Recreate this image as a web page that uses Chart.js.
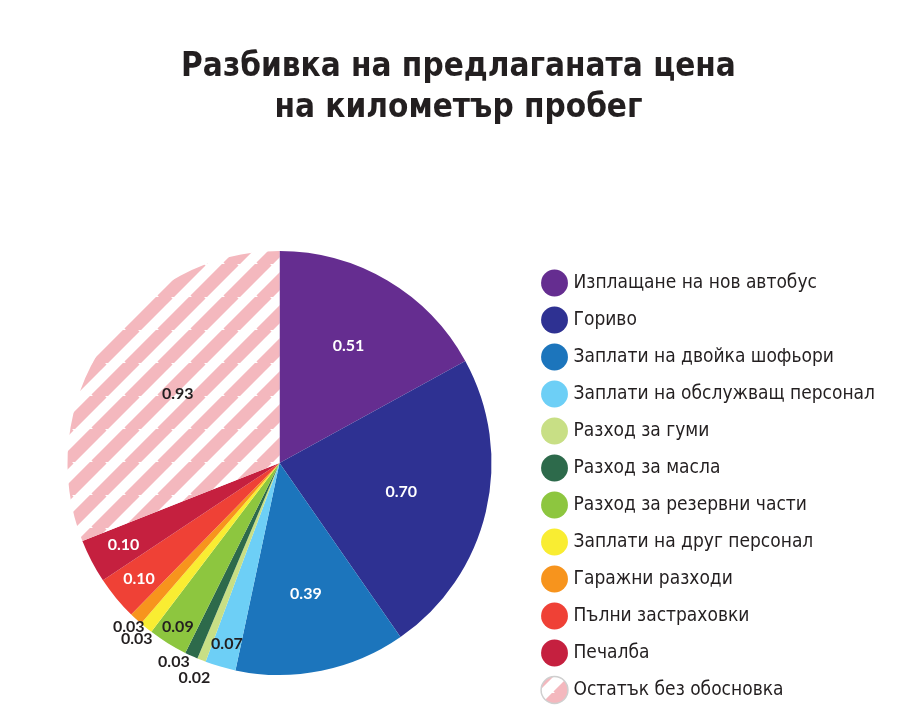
<!DOCTYPE html>
<html>
<head>
<meta charset="utf-8">
<script src="https://cdn.jsdelivr.net/npm/chart.js@4.4.1/dist/chart.umd.min.js"></script>
<style>
  html, body { margin: 0; padding: 0; background: #ffffff; }
  #wrap { width: 900px; height: 722px; position: relative; }
</style>
</head>
<body>
<div id="wrap"><canvas id="c" width="900" height="722"></canvas></div>
<script>
// ---- data ----
const titleLines = ["Разбивка на предлаганата цена", "на километър пробег"];
const categories = [
  "Изплащане на нов автобус",
  "Гориво",
  "Заплати на двойка шофьори",
  "Заплати на обслужващ персонал",
  "Разход за гуми",
  "Разход за масла",
  "Разход за резервни части",
  "Заплати на друг персонал",
  "Гаражни разходи",
  "Пълни застраховки",
  "Печалба",
  "Остатък без обосновка"
];
const values = [0.51, 0.70, 0.39, 0.07, 0.02, 0.03, 0.09, 0.03, 0.03, 0.10, 0.10, 0.93];

// ---- styles ----
const sliceColors = ["#652D90", "#2E3192", "#1C75BC", "#6DCFF6", "#C8DF85", "#2D6A4B",
                     "#8DC63F", "#F9ED32", "#F7941D", "#EF4136", "#C5203F", null];
const labelTextColors = ["#ffffff", "#ffffff", "#ffffff", "#231F20", "#231F20", "#231F20",
                         "#231F20", "#231F20", "#231F20", "#ffffff", "#ffffff", "#231F20"];
const labelRadius = [0.64, 0.59, 0.63, 0.89, 1.09, 1.06, 0.91, 1.07, 1.05, 0.86, 0.83, 0.58];
const labelAngleShift = [0, 0, 0, 0, 0, 0.06, 0, 0, 0, 0, 0, 0];

function makeStripes() {
  const p = 33;
  const c = document.createElement('canvas');
  c.width = p; c.height = p;
  const g = c.getContext('2d');
  g.fillStyle = '#ffffff';
  g.fillRect(0, 0, p, p);
  g.strokeStyle = '#F4B8BE';
  g.lineWidth = 0.55 * p / Math.SQRT2;
  g.beginPath();
  for (const k of [-p, 0, p]) {
    g.moveTo(k - 3, p + 3);
    g.lineTo(k + p + 3, -3);
  }
  g.stroke();
  return document.getElementById('c').getContext('2d').createPattern(c, 'repeat');
}
const stripes = makeStripes();
const bg = sliceColors.map(c => c || stripes);

const sliceLabels = {
  id: 'sliceLabels',
  afterDatasetsDraw(chart) {
    const meta = chart.getDatasetMeta(0);
    const ctx = chart.ctx;
    ctx.save();
    ctx.font = "bold 16px Lato, 'DejaVu Sans', sans-serif";
    ctx.textAlign = 'center';
    ctx.textBaseline = 'middle';
    meta.data.forEach((arc, i) => {
      const p = arc.getProps(['x', 'y', 'startAngle', 'endAngle', 'outerRadius'], true);
      const mid = (p.startAngle + p.endAngle) / 2 + labelAngleShift[i];
      const r = p.outerRadius * labelRadius[i];
      ctx.fillStyle = labelTextColors[i];
      ctx.fillText(values[i].toFixed(2), p.x + Math.cos(mid) * r, p.y + Math.sin(mid) * r);
    });
    ctx.restore();
  }
};

const baseGen = Chart.overrides.pie.plugins.legend.labels.generateLabels;

new Chart(document.getElementById('c'), {
  type: 'pie',
  data: {
    labels: categories,
    datasets: [{
      data: values,
      backgroundColor: bg,
      borderWidth: 0,
      radius: 212
    }]
  },
  options: {
    responsive: false,
    animation: false,
    devicePixelRatio: 1,
    layout: { padding: { left: 32, right: 15, top: 0, bottom: 4.5 } },
    plugins: {
      tooltip: { enabled: false },
      title: {
        display: true,
        text: titleLines,
        color: '#231F20',
        font: { family: "'DejaVu Sans Condensed', 'DejaVu Sans', sans-serif", size: 33, weight: 'bold', lineHeight: 1.27 },
        padding: { top: 46, bottom: 78.7 }
      },
      legend: {
        position: 'right',
        align: 'end',
        labels: {
          usePointStyle: true,
          pointStyle: 'circle',
          boxWidth: 19,
          boxHeight: 19,
          padding: 18,
          color: '#231F20',
          font: { family: "'DejaVu Sans Condensed', 'DejaVu Sans', sans-serif", size: 19, weight: 'normal' },
          generateLabels(chart) {
            const items = baseGen(chart);
            items.forEach((it, i) => {
              it.pointStyle = 'circle';
              it.fontColor = '#231F20';
              if (i === items.length - 1) { it.strokeStyle = '#CFCFCF'; it.lineWidth = 1.5; }
              else { it.lineWidth = 0; }
            });
            return items;
          }
        }
      }
    }
  },
  plugins: [sliceLabels]
});
</script>
</body>
</html>
